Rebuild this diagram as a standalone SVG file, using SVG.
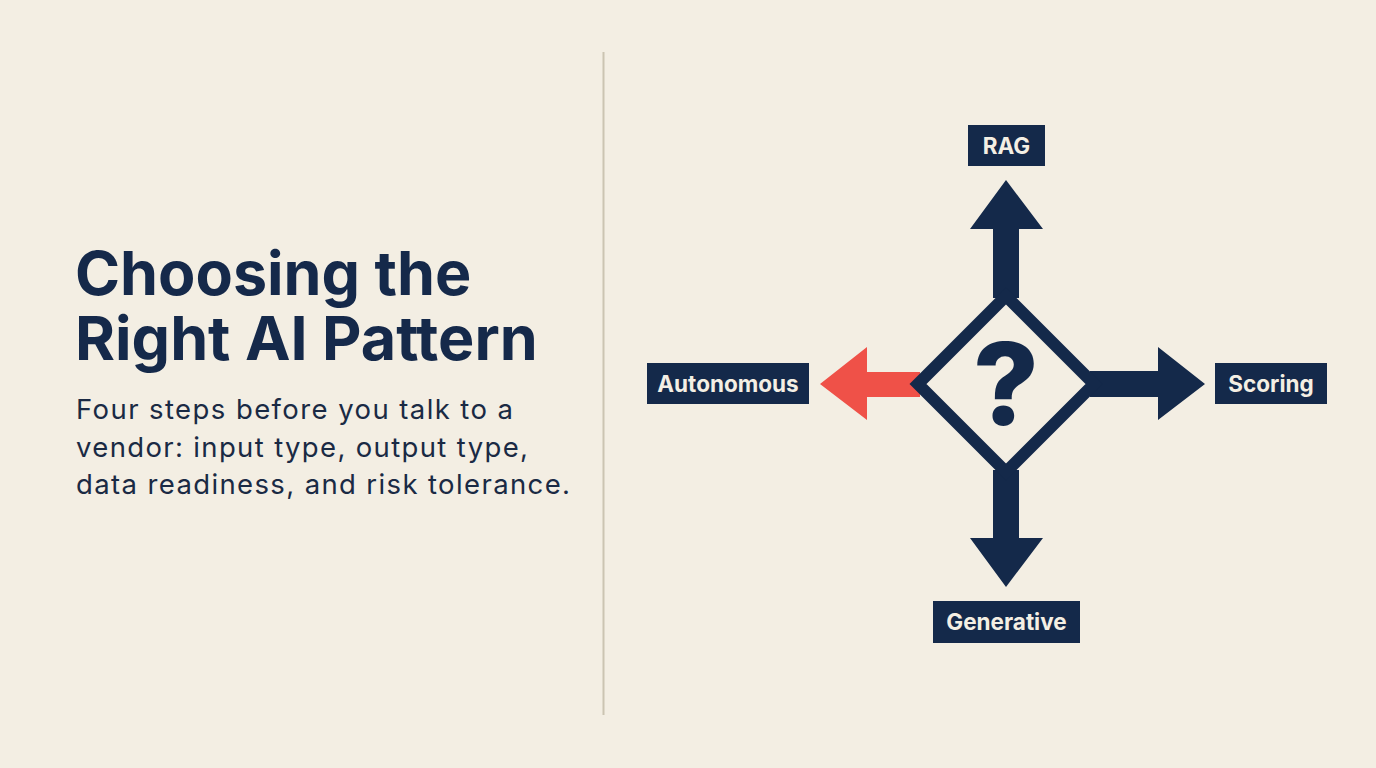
<svg xmlns="http://www.w3.org/2000/svg" width="1376" height="768" viewBox="0 0 1376 768">
<style>
.navy{fill:#14294a}
.lbl{font-family:Inter,"Liberation Sans",sans-serif;font-weight:700;font-size:22.5px;fill:#f4efe4;text-anchor:middle}
.title{font-family:Inter,"Liberation Sans",sans-serif;font-weight:700;font-size:61px;fill:#15294a}
.sub{font-family:Inter,"Liberation Sans",sans-serif;font-weight:400;font-size:27.5px;fill:#1a2a44}
</style>
<rect width="1376" height="768" fill="#f3eee3"/>
<line x1="603.5" y1="52" x2="603.5" y2="715" stroke="#cbc4b2" stroke-width="2"/>
<g id="heading">
<text class="title" x="75" y="295">Choosing the</text>
<text class="title" x="75" y="360">Right AI Pattern</text>
<text class="sub" x="76" y="419" textLength="437" lengthAdjust="spacing">Four steps before you talk to a</text>
<text class="sub" x="76" y="457" textLength="452" lengthAdjust="spacing">vendor: input type, output type,</text>
<text class="sub" x="76" y="494" textLength="494" lengthAdjust="spacing">data readiness, and risk tolerance.</text>
</g>
<g id="connectors">
<polygon points="993,298 993,229 970,229 1006,180 1043,229 1019,229 1019,298" class="navy"/>
<polygon points="1090,371 1158,371 1158,347 1205,384 1158,420 1158,397 1090,397" class="navy"/>
<polygon points="993,470 993,538 970,538 1006,587 1043,538 1019,538 1019,470" class="navy"/>
<polygon points="920,372 867,372 867,347 820,384 867,420 867,397 920,397" fill="#ef5148"/>
</g>
<g id="decision">
<polygon points="1006,296 1094,384 1006,472 918,384" fill="#f3eee3" stroke="#14294a" stroke-width="12" stroke-linejoin="miter"/>
<text x="1006" y="425" text-anchor="middle" font-family="Inter,'Liberation Sans',sans-serif" font-weight="800" font-size="114" fill="#14294a">?</text>
</g>
<g id="rag">
<rect x="968" y="125" width="77" height="41" class="navy"/>
<text class="lbl" x="1006.5" y="153.5">RAG</text>
</g>
<g id="autonomous">
<rect x="647" y="363" width="162" height="41" class="navy"/>
<text class="lbl" x="728" y="391.5">Autonomous</text>
</g>
<g id="scoring">
<rect x="1215" y="363" width="112" height="41" class="navy"/>
<text class="lbl" x="1271" y="391.5">Scoring</text>
</g>
<g id="generative">
<rect x="933" y="601" width="147" height="42" class="navy"/>
<text class="lbl" x="1006.5" y="630">Generative</text>
</g>
</svg>
